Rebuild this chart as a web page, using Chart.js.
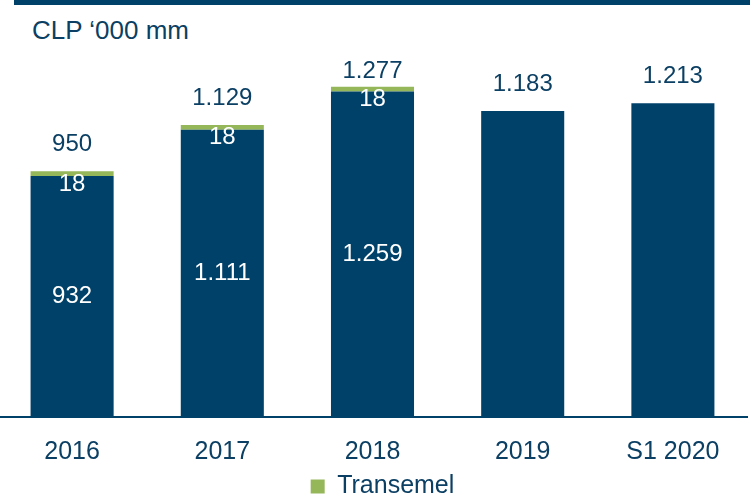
<!DOCTYPE html>
<html>
<head>
<meta charset="utf-8">
<script src="https://cdn.jsdelivr.net/npm/chart.js@4/dist/chart.umd.min.js"></script>
<style>
  body { margin: 0; background: #fff; overflow: hidden; }
  #wrap { position: relative; width: 750px; height: 498px; overflow: hidden; }
  #topline { position: absolute; left: 14px; top: 0; width: 736px; height: 5px; background: #00416a; }
  #title { position: absolute; left: 32px; top: 15px; font: 26px "Liberation Sans", Arial, sans-serif; color: #0b3f63; }
  #box { position: absolute; left: -3px; top: 0; width: 751px; height: 498px; }
</style>
</head>
<body>
<div id="wrap">
  <div id="topline"></div>
  <div id="title">CLP ‘000 mm</div>
  <div id="box"><canvas id="chart"></canvas></div>
</div>
<script>
var categories = ['2016', '2017', '2018', '2019', 'S1 2020'];
var baseValues = [932, 1111, 1259, 1183, 1213];
var transemelValues = [18, 18, 18, null, null];

var darkBlue = '#00416a';
var green = '#95b75a';
var textColor = '#0b3f63';
var fontFamily = '"Liberation Sans", Arial, sans-serif';

function fmt(v) {
    return String(v).replace(/\B(?=(\d{3})+(?!\d))/g, '.');
}

// etiquetas de valores dentro y encima de las barras
var labelsPlugin = {
    id: 'barLabels',
    afterLayout: function(chart) {
        // correr la leyenda un poco a la derecha
        chart.legend.left += 10;
        chart.legend.right += 10;
    },
    afterDatasetsDraw: function(chart) {
        var ctx = chart.ctx;
        var dark = chart.getDatasetMeta(0).data;
        var light = chart.getDatasetMeta(1).data;
        ctx.save();
        ctx.textAlign = 'center';
        ctx.textBaseline = 'middle';
        ctx.font = '24px ' + fontFamily;
        dark.forEach(function(bar, i) {
            var v = baseValues[i];
            var t = transemelValues[i];
            var top = bar.y;
            ctx.fillStyle = '#ffffff';
            if (t) {
                ctx.fillText(fmt(v), bar.x, (bar.y + bar.base) / 2);
                ctx.fillText(fmt(t), bar.x, bar.y + 8);
                top = light[i].y;
            }
            ctx.fillStyle = textColor;
            var y = Math.max(top - 27, chart.chartArea.top + 16);
            ctx.fillText(fmt(v + (t || 0)), bar.x, y);
        });
        ctx.restore();
    }
};

var ctx = document.getElementById('chart').getContext('2d');
var myChart = new Chart(ctx, {
    type: 'bar',
    data: {
        labels: categories,
        datasets: [{
            label: 'Base',
            data: baseValues,
            backgroundColor: darkBlue,
            categoryPercentage: 1,
            barPercentage: 0.553
        }, {
            label: 'Transemel',
            data: transemelValues,
            backgroundColor: green,
            categoryPercentage: 1,
            barPercentage: 0.553
        }]
    },
    options: {
        responsive: true,
        maintainAspectRatio: false,
        animation: false,
        layout: { padding: { top: 55, bottom: -11, left: 0, right: 0 } },
        scales: {
            x: {
                stacked: true,
                grid: { display: false, drawTicks: false },
                border: { display: true, color: darkBlue, width: 2 },
                ticks: {
                    color: textColor,
                    font: { family: fontFamily, size: 25 },
                    padding: 20
                },
                afterFit: function(axis) { axis.height -= 13; }
            },
            y: {
                stacked: true,
                display: false,
                min: 0,
                max: 1400
            }
        },
        plugins: {
            tooltip: { enabled: false },
            legend: {
                position: 'bottom',
                labels: {
                    filter: function(item) { return item.text === 'Transemel'; },
                    color: textColor,
                    font: { family: fontFamily, size: 25 },
                    boxWidth: 14,
                    boxHeight: 14,
                    padding: 0
                }
            }
        }
    },
    plugins: [labelsPlugin]
});
</script>
</body>
</html>
